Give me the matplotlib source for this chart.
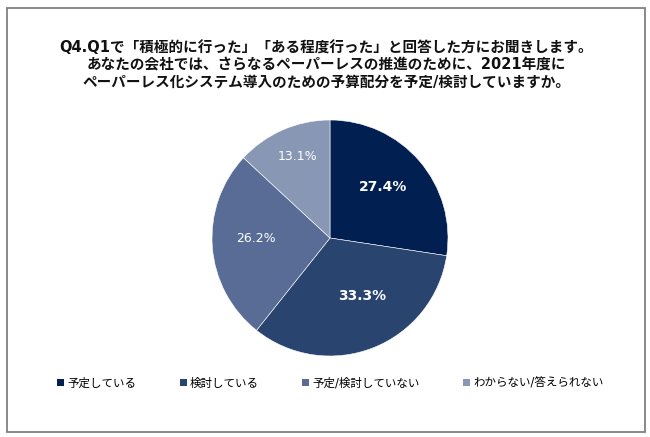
import numpy as np
import matplotlib
matplotlib.use("Agg")
from matplotlib import pyplot as plt
from matplotlib.patches import Rectangle

plt.rcParams['font.family'] = ['DejaVu Sans', 'Noto Sans CJK JP']

# データ
labels = ['予定している', '検討している', '予定/検討していない', 'わからない/答えられない']
values = [27.4, 33.3, 26.2, 13.1]
colors = ['#021f52', '#2a4470', '#586c95', '#8898b4']
title = ('Q4.Q1で「積極的に行った」「ある程度行った」と回答した方にお聞きします。\n'
         'あなたの会社では、さらなるペーパーレスの推進のために、2021年度に\n'
         'ペーパーレス化システム導入のための予算配分を予定/検討していますか。')

W, H = 650, 437
fig = plt.figure(figsize=(W / 100, H / 100), dpi=100)

# 外枠
fig.patches.append(Rectangle((7 / W, 1 - 432 / H), 638 / W, 424 / H,
                             transform=fig.transFigure, fill=False,
                             edgecolor='#808080', linewidth=1.3))

fig.text(326 / W, 1 - 65 / H, title, ha='center', va='center',
         fontsize=10.5, fontweight='bold', linespacing=1.2, color='#111111')

# 円グラフ
cx, cy, r = 330, 238, 118
ax = fig.add_axes([(cx - r) / W, (H - cy - r) / H, 2 * r / W, 2 * r / H])
wedges, _ = ax.pie(values, colors=colors, startangle=90, counterclock=False,
                   wedgeprops=dict(edgecolor='white', linewidth=0.4))
ax.set_xlim(-1, 1)
ax.set_ylim(-1, 1)

dist = [0.62, 0.56, 0.63, 0.74]
shift = [3, 8, -4, -2]
weights = ['bold', 'bold', 'normal', 'normal']
sizes = [10, 10, 9, 9]
for w, v, d, s, fw, fs in zip(wedges, values, dist, shift, weights, sizes):
    a = np.deg2rad((w.theta1 + w.theta2) / 2 + s)
    ax.text(d * np.cos(a), d * np.sin(a), f'{v:.1f}%', ha='center', va='center',
            color='white', fontsize=fs, fontweight=fw)

# 凡例
handles = [Rectangle((0, 0), 1, 1, facecolor=c) for c in colors]
fig.legend(handles, labels, loc='center left', bbox_to_anchor=(57 / W, 1 - 383 / H),
           ncol=4, frameon=False, fontsize=8.3, handlelength=0.6, handleheight=0.6,
           handletextpad=0.3, columnspacing=3.75, borderaxespad=0, borderpad=0)

fig.savefig('out.png', dpi=100)
